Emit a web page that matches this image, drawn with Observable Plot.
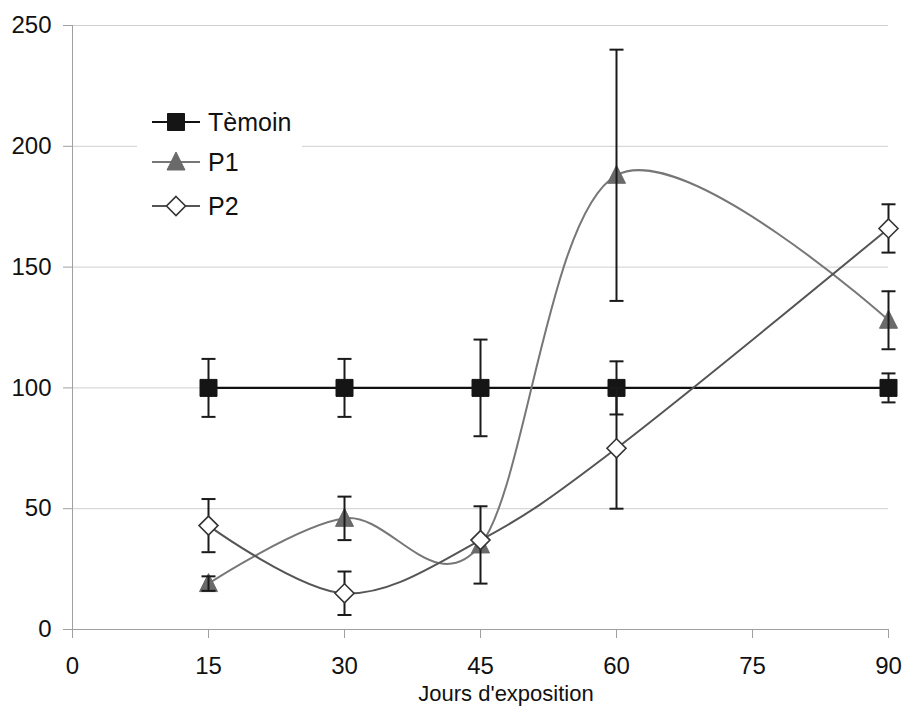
<!DOCTYPE html>
<html>
<head>
<meta charset="utf-8">
<script src="https://cdn.jsdelivr.net/npm/d3@7"></script>
<script src="https://cdn.jsdelivr.net/npm/@observablehq/plot@0.6"></script>
<style>
  html, body { margin: 0; padding: 0; background: #fff; }
  #wrap { position: relative; width: 903px; height: 709px; overflow: hidden; font-family: "Liberation Sans", Arial, sans-serif; }
  #legend { position: absolute; left: 137px; top: 98px; }
  #xtitle { position: absolute; left: 0; width: 1012px; text-align: center; top: 683px; font-size: 22px; line-height: 22px; color: #111; }
</style>
</head>
<body>
<div id="wrap">
  <div id="chart"></div>
  <svg id="legend" width="165" height="132"></svg>
  <div id="xtitle">Jours d'exposition</div>
</div>
<script>
// ---- data ----
const days = [15, 30, 45, 60, 90];
const seriesNames = ["Tèmoin", "P1", "P2"];
const temoin = [100, 100, 100, 100, 100];
const temoinErr = [12, 12, 20, 11, 6];
const p1 = [19, 46, 35, 188, 128];
const p1Err = [3, 9, 16, 52, 12];
const p2 = [43, 15, 37, 75, 166];
const p2Err = [11, 9, null, 25, 10];
const xTicks = [0, 15, 30, 45, 60, 75, 90];
const yTicks = [0, 50, 100, 150, 200, 250];

// ---- symbols ----
const sqSym = {draw(c) { const s = 8.5; c.moveTo(-s, -s); c.lineTo(s, -s); c.lineTo(s, s); c.lineTo(-s, s); c.closePath(); }};
const triSym = {draw(c) { c.moveTo(0, -10); c.lineTo(9, 8); c.lineTo(-9, 8); c.closePath(); }};
const diaSym = {draw(c) { const s = 9.5; c.moveTo(0, -s); c.lineTo(s, 0); c.lineTo(0, s); c.lineTo(-s, 0); c.closePath(); }};
const capSym = {draw(c) { c.moveTo(-7, 0); c.lineTo(7, 0); }};

const styles = {
  "Tèmoin": {line: "#111", lw: 2.2, sym: sqSym, fill: "#151515", stroke: "#151515", sw: 1},
  "P1": {line: "#777", lw: 2, sym: triSym, fill: "#6a6a6a", stroke: "#6a6a6a", sw: 1},
  "P2": {line: "#555", lw: 2, sym: diaSym, fill: "#fff", stroke: "#333", sw: 1.6}
};

function rows(name, vals, errs) {
  return days.map((d, i) => ({series: name, day: d, value: vals[i], err: errs[i]}));
}
const dT = rows("Tèmoin", temoin, temoinErr);
const d1 = rows("P1", p1, p1Err);
const d2 = rows("P2", p2, p2Err);

function errMarks(data) {
  const e = data.filter(d => d.err != null);
  const caps = e.flatMap(d => [{day: d.day, v: d.value - d.err}, {day: d.day, v: d.value + d.err}]);
  return [
    Plot.ruleX(e, {x: "day", y1: d => d.value - d.err, y2: d => d.value + d.err, stroke: "#1a1a1a", strokeWidth: 2}),
    Plot.dot(caps, {x: "day", y: "v", symbol: capSym, r: 4, stroke: "#1a1a1a", strokeWidth: 2, fill: "none"})
  ];
}
function lineMark(data) {
  const s = styles[data[0].series];
  return Plot.line(data, {x: "day", y: "value", stroke: s.line, strokeWidth: s.lw, curve: "cardinal"});
}
function dotMark(data) {
  const s = styles[data[0].series];
  return Plot.dot(data, {x: "day", y: "value", symbol: s.sym, r: 5, fill: s.fill, stroke: s.stroke, strokeWidth: s.sw});
}

const chart = Plot.plot({
  width: 903,
  height: 709,
  marginLeft: 72,
  marginRight: 15,
  marginTop: 25,
  marginBottom: 80,
  style: {fontFamily: "'Liberation Sans', Arial, sans-serif", color: "#111", background: "#fff"},
  x: {domain: [0, 90]},
  y: {domain: [0, 250]},
  marks: [
    Plot.gridY(yTicks, {stroke: "#cfcfcf", strokeOpacity: 1, strokeWidth: 1}),
    Plot.ruleX([0], {stroke: "#a0a0a0", strokeWidth: 1}),
    Plot.ruleY([0], {stroke: "#a0a0a0", strokeWidth: 1}),
    Plot.axisY(yTicks, {tickSize: 9, tickPadding: 12, fontSize: 24, label: null, stroke: "#a0a0a0"}),
    Plot.axisX(xTicks, {tickSize: 9, tickPadding: 18, fontSize: 24, label: null, stroke: "#a0a0a0"}),
    lineMark(dT), lineMark(d1), lineMark(d2),
    ...errMarks(dT), dotMark(dT),
    dotMark(d1), ...errMarks(d1),
    ...errMarks(d2), dotMark(d2)
  ]
});
document.getElementById("chart").appendChild(chart);

// ---- legend ----
const leg = d3.select("#legend");
leg.append("rect").attr("width", 165).attr("height", 132).attr("fill", "#fff");
const rowY = [24, 64, 108];
seriesNames.forEach((name, i) => {
  const s = styles[name];
  const g = leg.append("g").attr("transform", `translate(0,${rowY[i]})`);
  g.append("line").attr("x1", 15).attr("x2", 63).attr("y1", 0).attr("y2", 0).attr("stroke", s.line).attr("stroke-width", s.lw);
  g.append("path").attr("transform", "translate(39,0)").attr("d", d3.symbol().type(s.sym)())
    .attr("fill", s.fill).attr("stroke", s.stroke).attr("stroke-width", s.sw);
  g.append("text").attr("x", 71).attr("y", 0).attr("dy", "0.35em").attr("font-size", 25).attr("fill", "#111").text(name);
});
</script>
</body>
</html>
